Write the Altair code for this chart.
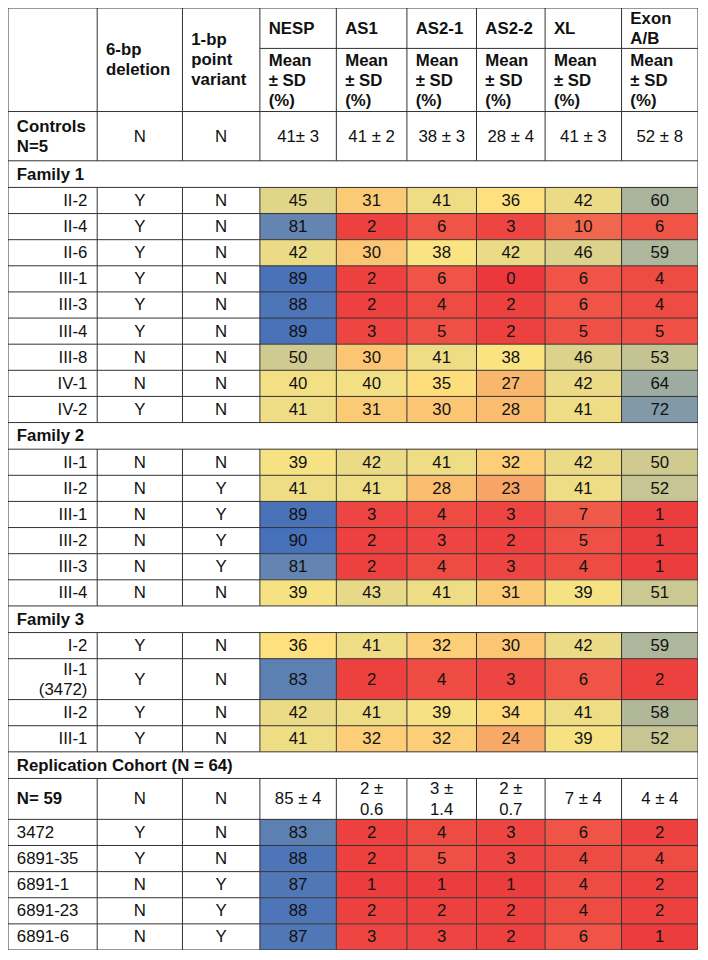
import altair as alt
import pandas as pd

header_del = "6-bp\ndeletion"
header_var = "1-bp\npoint\nvariant"
assays = ["NESP", "AS1", "AS2-1", "AS2-2", "XL", "Exon\nA/B"]
assay_sub = "Mean\n± SD\n(%)"

controls_label = "Controls\nN=5"
controls_del = "N"
controls_var = "N"
controls_vals = ["41± 3", "41 ± 2", "38 ± 3", "28 ± 4", "41 ± 3", "52 ± 8"]

family1_title = "Family 1"
family1_ids = ["II-2", "II-4", "II-6", "III-1", "III-3", "III-4", "III-8", "IV-1", "IV-2"]
family1_del = ["Y", "Y", "Y", "Y", "Y", "Y", "N", "N", "Y"]
family1_var = ["N", "N", "N", "N", "N", "N", "N", "N", "N"]
family1_nesp = [45, 81, 42, 89, 88, 89, 50, 40, 41]
family1_as1 = [31, 2, 30, 2, 2, 3, 30, 40, 31]
family1_as21 = [41, 6, 38, 6, 4, 5, 41, 35, 30]
family1_as22 = [36, 3, 42, 0, 2, 2, 38, 27, 28]
family1_xl = [42, 10, 46, 6, 6, 5, 46, 42, 41]
family1_exon = [60, 6, 59, 4, 4, 5, 53, 64, 72]

family2_title = "Family 2"
family2_ids = ["II-1", "II-2", "III-1", "III-2", "III-3", "III-4"]
family2_del = ["N", "N", "N", "N", "N", "N"]
family2_var = ["N", "Y", "Y", "Y", "Y", "N"]
family2_nesp = [39, 41, 89, 90, 81, 39]
family2_as1 = [42, 41, 3, 2, 2, 43]
family2_as21 = [41, 28, 4, 3, 4, 41]
family2_as22 = [32, 23, 3, 2, 3, 31]
family2_xl = [42, 41, 7, 5, 4, 39]
family2_exon = [50, 52, 1, 1, 1, 51]

family3_title = "Family 3"
family3_ids = ["I-2", "II-1\n(3472)", "II-2", "III-1"]
family3_del = ["Y", "Y", "Y", "Y"]
family3_var = ["N", "N", "N", "N"]
family3_nesp = [36, 83, 42, 41]
family3_as1 = [41, 2, 41, 32]
family3_as21 = [32, 4, 39, 32]
family3_as22 = [30, 3, 34, 24]
family3_xl = [42, 6, 41, 39]
family3_exon = [59, 2, 58, 52]

rep_title = "Replication Cohort (N = 64)"
rep_sum_label = "N= 59"
rep_sum_del = "N"
rep_sum_var = "N"
rep_sum_vals = ["85 ± 4", "2 ±\n0.6", "3 ±\n1.4", "2 ±\n0.7", "7 ± 4", "4 ± 4"]
rep_ids = ["3472", "6891-35", "6891-1", "6891-23", "6891-6"]
rep_del = ["Y", "Y", "N", "N", "N"]
rep_var = ["N", "N", "Y", "Y", "Y"]
rep_nesp = [83, 88, 87, 88, 87]
rep_as1 = [2, 2, 1, 2, 3]
rep_as21 = [4, 5, 1, 2, 3]
rep_as22 = [3, 3, 1, 2, 2]
rep_xl = [6, 4, 4, 4, 6]
rep_exon = [2, 4, 2, 2, 1]

# ---------------- layout (reference pixel units) ----------------
COL_X = [2, 93, 180, 259, 337, 409, 480, 550, 628, 706]
TOP = 2
HEAD_H, SUB_Y = 105, 43
CTRL_H, SEC_H, ROW_H, DBL_H = 50, 27, 26.5, 41.5
PAD, RPAD = 9, 10
W, H = 690, 942
FONT = "Liberation Sans"
FS = 16.8
LH_REF = 20.5          # line spacing in reference pixels
TOTAL_H = 955.5        # reference table height
LH = LH_REF * H / TOTAL_H

rects, rules = [], []
texts = {("left", "bold"): [], ("center", "normal"): [],
         ("right", "normal"): [], ("left", "normal"): []}


def add_text(x, y, s, align="center", weight="normal"):
    s = str(s)
    n = s.count("\n") + 1
    y0 = y - (n - 1) * LH_REF / 2   # centre a multi-line block on y
    texts[(align, weight)].append({"x": x, "y": y0, "t": s})


def mid(i):
    return (COL_X[i] + COL_X[i + 1]) / 2


def vlines(y0, y1, inner=True):
    xs = COL_X if inner else [COL_X[0], COL_X[-1]]
    for x in xs:
        rules.append({"x": x, "x2": x, "y": y0, "y2": y1})


def hline(y, x0=COL_X[0], x1=COL_X[-1]):
    rules.append({"x": x0, "x2": x1, "y": y, "y2": y})


y = TOP
hline(y)
# header
add_text(COL_X[1] + PAD, y + HEAD_H / 2, header_del, "left", "bold")
add_text(COL_X[2] + PAD, y + HEAD_H / 2, header_var, "left", "bold")
for k, a in enumerate(assays):
    add_text(COL_X[3 + k] + PAD, (y + SUB_Y) / 2 + 0.5, a, "left", "bold")
    add_text(COL_X[3 + k] + PAD, (SUB_Y + y + HEAD_H) / 2 + 1, assay_sub, "left", "bold")
hline(SUB_Y, COL_X[3], COL_X[-1])
vlines(y, y + HEAD_H)
y += HEAD_H
hline(y)


def data_row(y, label, dl, vr, vals, label_align, label_weight="normal", colored=True):
    multi = "\n" in label or any("\n" in str(v) for v in vals)
    h = DBL_H if multi else ROW_H
    if label == controls_label:
        h = CTRL_H
    cy = y + h / 2 + 0.5
    lx = COL_X[1] - RPAD if label_align == "right" else COL_X[0] + PAD
    add_text(lx, cy, label, label_align, label_weight)
    add_text(mid(1), cy, dl)
    add_text(mid(2), cy, vr)
    for k, v in enumerate(vals):
        if colored:
            rects.append({"x": COL_X[3 + k], "x2": COL_X[4 + k], "y": y, "y2": y + h, "v": v})
        add_text(mid(3 + k), cy, v)
    vlines(y, y + h)
    hline(y + h)
    return y + h


def section_row(y, title):
    add_text(COL_X[0] + PAD, y + SEC_H / 2 + 0.5, title, "left", "bold")
    vlines(y, y + SEC_H, inner=False)
    hline(y + SEC_H)
    return y + SEC_H


y = data_row(y, controls_label, controls_del, controls_var, controls_vals,
             "left", "bold", colored=False)

families = [
    (family1_title, family1_ids, family1_del, family1_var,
     [family1_nesp, family1_as1, family1_as21, family1_as22, family1_xl, family1_exon]),
    (family2_title, family2_ids, family2_del, family2_var,
     [family2_nesp, family2_as1, family2_as21, family2_as22, family2_xl, family2_exon]),
    (family3_title, family3_ids, family3_del, family3_var,
     [family3_nesp, family3_as1, family3_as21, family3_as22, family3_xl, family3_exon]),
]
for title, ids, dls, vrs, cols in families:
    y = section_row(y, title)
    for r, lab in enumerate(ids):
        y = data_row(y, lab, dls[r], vrs[r], [c[r] for c in cols], "right")

y = section_row(y, rep_title)
y = data_row(y, rep_sum_label, rep_sum_del, rep_sum_var, rep_sum_vals,
             "left", "bold", colored=False)
rep_cols = [rep_nesp, rep_as1, rep_as21, rep_as22, rep_xl, rep_exon]
for r, lab in enumerate(rep_ids):
    y = data_row(y, lab, rep_del[r], rep_var[r], [c[r] for c in rep_cols], "left")
BOTTOM = y

# ---------------- chart ----------------
xs = alt.Scale(domain=[COL_X[0], COL_X[-1]], nice=False, zero=False)
ys = alt.Scale(domain=[TOP, BOTTOM], nice=False, zero=False, reverse=True)
X = alt.X("x:Q", scale=xs, axis=None)
Y = alt.Y("y:Q", scale=ys, axis=None)

color_scale = alt.Scale(domain=[0, 37, 60, 90],
                        range=["#ec383c", "#fee680", "#aab49d", "#4670b9"],
                        interpolate="rgb")

cells = alt.Chart(pd.DataFrame(rects)).mark_rect(strokeWidth=0).encode(
    x=X, x2="x2:Q", y=Y, y2="y2:Q",
    color=alt.Color("v:Q", scale=color_scale, legend=None),
)

lines = alt.Chart(pd.DataFrame(rules)).mark_rule(color="#333333", strokeWidth=1).encode(
    x=X, x2="x2:Q", y=Y, y2="y2:Q"
)

layers = [cells, lines]
for (align, weight), rows in texts.items():
    layers.append(
        alt.Chart(pd.DataFrame(rows)).mark_text(
            align=align, baseline="middle", font=FONT, fontSize=FS,
            fontWeight=weight, lineBreak="\n", lineHeight=LH, color="#111111"
        ).encode(x=X, y=Y, text="t:N")
    )

chart = alt.layer(*layers).properties(
    width=W, height=H, padding=0,
    autosize=alt.AutoSizeParams(type="none"),
).configure_view(stroke=None)

chart.save("out.html", embed_options={"renderer": "svg", "actions": False})
